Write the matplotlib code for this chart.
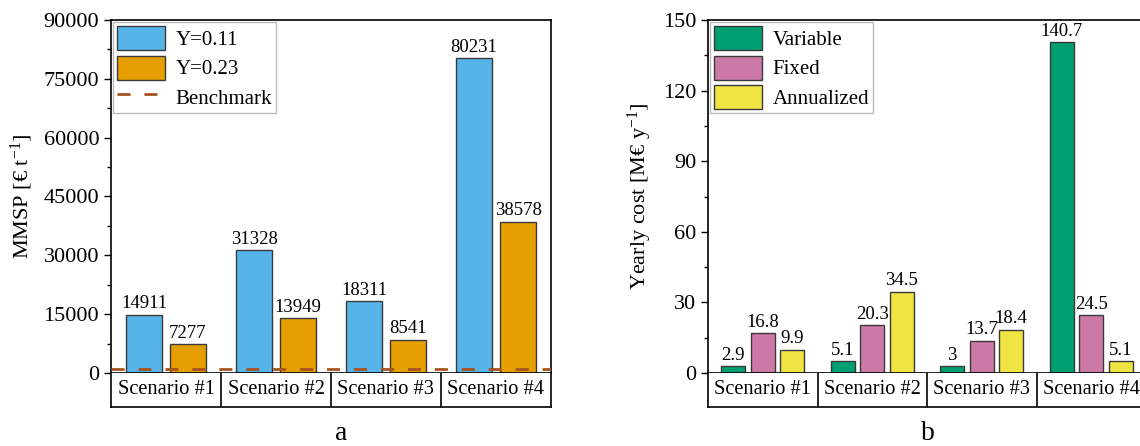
import matplotlib
matplotlib.use("Agg")
import matplotlib.pyplot as plt
import numpy as np

plt.rcParams['font.family'] = ['Liberation Serif', 'DejaVu Serif']
plt.rcParams['mathtext.fontset'] = 'custom'
plt.rcParams['mathtext.rm'] = 'Liberation Serif'
plt.rcParams['mathtext.it'] = 'Liberation Serif:italic'

scenarios = ["Scenario #1", "Scenario #2", "Scenario #3", "Scenario #4"]
mmsp_y011 = [14911, 31328, 18311, 80231]
mmsp_y023 = [7277, 13949, 8541, 38578]
benchmark = 1000
cost_variable = [2.9, 5.1, 3, 140.7]
cost_fixed = [16.8, 20.3, 13.7, 24.5]
cost_annualized = [9.9, 34.5, 18.4, 5.1]

W, H = 1140, 446
fig = plt.figure(figsize=(W / 100, H / 100), dpi=100)

def px_axes(x0, x1, ytop, ybot):
    return [x0 / W, 1 - ybot / H, (x1 - x0) / W, (ybot - ytop) / H]

edge = '#3a3a3a'
tick_fs = 16
cat_fs = 14.7
leg_fs = 15
lab_fs = 13.5
x = np.arange(len(scenarios))

def style_axes(ax, ymax, step):
    ax.set_ylim(0, ymax)
    ax.set_xlim(-0.5, len(scenarios) - 0.5)
    ax.set_yticks(np.arange(0, ymax + 1e-9, step))
    ax.set_yticks(np.arange(step / 2, ymax, step), minor=True)
    ax.tick_params(axis='y', which='major', direction='out', length=5, width=1, labelsize=tick_fs, right=False)
    ax.tick_params(axis='y', which='minor', direction='out', length=3, width=1, right=False)
    ax.set_xticks([])
    for s in ax.spines.values():
        s.set_linewidth(1.2)

def category_box(pos, right_spine=True):
    cax = fig.add_axes(pos)
    cax.set_xlim(-0.5, len(scenarios) - 0.5)
    cax.set_ylim(0, 1)
    cax.set_xticks([])
    cax.set_yticks([])
    for s in cax.spines.values():
        s.set_linewidth(1.2)
    cax.spines['top'].set_visible(False)
    if not right_spine:
        cax.spines['right'].set_visible(False)
    for i in range(1, len(scenarios)):
        cax.axvline(i - 0.5, color='black', lw=1.2)
    for i, s in enumerate(scenarios):
        cax.text(i, 0.5, s, ha='center', va='center', fontsize=cat_fs)
    return cax

def make_legend(ax, handles, labels):
    leg = ax.legend(handles, labels, loc='upper left', fontsize=leg_fs, frameon=True, fancybox=False,
                    edgecolor='#aaaaaa', handlelength=2.3, handleheight=1.4,
                    borderaxespad=0.1, borderpad=0.2, labelspacing=0.25, handletextpad=0.5)
    leg.get_frame().set_linewidth(1)
    return leg

# ---- Panel a ----
ax1 = fig.add_axes(px_axes(111, 551, 20, 373))
w1 = 0.33
b1 = ax1.bar(x - 0.2, mmsp_y011, w1, color='#56B4E9', edgecolor=edge, lw=1, label='Y=0.11', zorder=2)
b2 = ax1.bar(x + 0.2, mmsp_y023, w1, color='#E69F00', edgecolor=edge, lw=1, label='Y=0.23', zorder=2)
bl = ax1.axhline(benchmark, color='#A8521E', lw=2, ls=(0, (4.7, 5)), label='Benchmark', zorder=3)
for bars, vals in ((b1, mmsp_y011), (b2, mmsp_y023)):
    for r, v in zip(bars, vals):
        ax1.text(r.get_x() + r.get_width() / 2, v + 600, f"{v}", ha='center', va='bottom', fontsize=lab_fs)
style_axes(ax1, 90000, 15000)
ax1.set_ylabel(r"MMSP [€ t$^{\mathregular{-1}}$]", fontsize=16, labelpad=6)
make_legend(ax1, [b1, b2, bl], ['Y=0.11', 'Y=0.23', 'Benchmark'])
category_box(px_axes(111, 551, 373, 407))
fig.text(341 / W, 1 - 440 / H, 'a', ha='center', va='baseline', fontsize=20)

# ---- Panel b ----
ax2 = fig.add_axes(px_axes(708, 1146, 20, 373))
w2 = 0.22
off = 0.27
c1 = ax2.bar(x - off, cost_variable, w2, color='#009E73', edgecolor=edge, lw=1, label='Variable', zorder=2)
c2 = ax2.bar(x, cost_fixed, w2, color='#CC79A7', edgecolor=edge, lw=1, label='Fixed', zorder=2)
c3 = ax2.bar(x + off, cost_annualized, w2, color='#F0E442', edgecolor=edge, lw=1, label='Annualized', zorder=2)
for bars, vals in ((c1, cost_variable), (c2, cost_fixed), (c3, cost_annualized)):
    for r, v in zip(bars, vals):
        ax2.text(r.get_x() + r.get_width() / 2, v + 1.0, f"{v}", ha='center', va='bottom', fontsize=lab_fs)
style_axes(ax2, 150, 30)
ax2.spines['right'].set_visible(False)
ax2.set_ylabel(r"Yearly cost [M€ y$^{\mathregular{-1}}$]", fontsize=16, labelpad=6)
make_legend(ax2, [c1, c2, c3], ['Variable', 'Fixed', 'Annualized'])
category_box(px_axes(708, 1146, 373, 407), right_spine=False)
fig.text(928 / W, 1 - 440 / H, 'b', ha='center', va='baseline', fontsize=20)

fig.savefig("out.png", dpi=100)
